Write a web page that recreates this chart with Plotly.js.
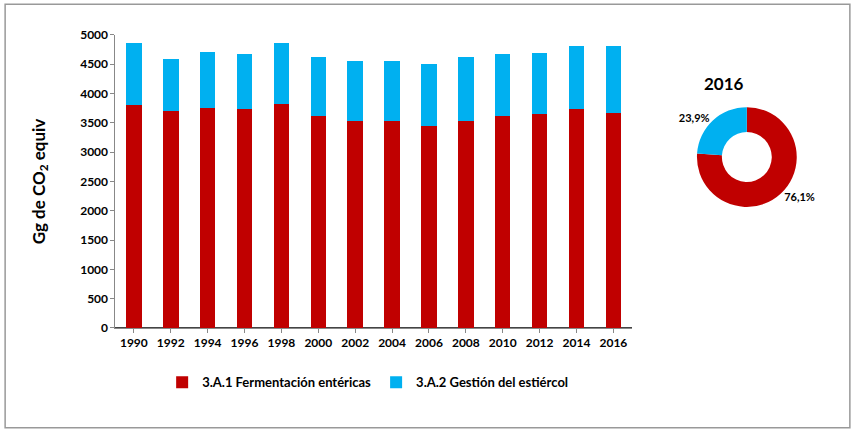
<!DOCTYPE html>
<html><head><meta charset="utf-8">
<script src="https://cdn.plot.ly/plotly-3.0.1.min.js"></script>
<style>body{margin:0}#chart{width:855px;height:432px}</style>
</head><body><div id="chart"></div>
<script>
var years = ['1990','1992','1994','1996','1998','2000','2002','2004','2006','2008','2010','2012','2014','2016'];
var enteric = [3800,3700,3760,3730,3830,3610,3540,3530,3440,3540,3620,3650,3730,3670];
var manure = [1070,890,950,940,1030,1020,1020,1020,1060,1080,1060,1050,1090,1150];
var pieLabels = ['3.A.1 Fermentación entéricas','3.A.2 Gestión del estiércol'];
var pieValues = [76.1, 23.9];
var pieText = ['76,1%','23,9%'];

var red = '#C00000', blue = '#00B0F0';
var f = {family:'Lato, Arial, sans-serif', size:12, color:'#000'};

var traces = [
  {type:'bar', x:years, y:enteric, name:pieLabels[0], marker:{color:red}, width:0.42},
  {type:'bar', x:years, y:manure, name:pieLabels[1], marker:{color:blue}, width:0.42},
  {type:'pie', labels:pieLabels, values:pieValues, text:pieText, textinfo:'text',
   textposition:'outside', hole:0.5, sort:false, direction:'clockwise', rotation:0,
   marker:{colors:[red,blue]}, showlegend:false, hoverinfo:'label+percent',
   textfont:{family:f.family,size:11,color:'#000',weight:'bold'},
   domain:{x:[0.815,0.932], y:[0.521,0.752]}}
];

var layout = {
  width:855, height:432, barmode:'stack',
  margin:{l:0, r:0, t:0, b:0},
  paper_bgcolor:'#fff', plot_bgcolor:'#fff',
  font:f,
  xaxis:{type:'category', domain:[0.135,0.739], tickfont:{family:f.family,size:12,color:'#000',weight:'bold'},
    showline:true, linecolor:'#888', ticks:'outside', ticklen:4, tickcolor:'#888'},
  yaxis:{domain:[0.241,0.919], range:[0,5000], dtick:500, tickfont:{family:f.family,size:12,color:'#000',weight:'bold'},
    showgrid:false, showline:true, linecolor:'#888', ticks:'outside', ticklen:4, tickcolor:'#888',
    title:{text:'Gg de CO<sub>2</sub> equiv', font:{family:f.family,size:17,color:'#000',weight:'bold'}, standoff:30}},
  legend:{orientation:'h', traceorder:'normal', x:0.43, xanchor:'center', y:0.115, yanchor:'middle',
    font:{family:f.family,size:13,color:'#000',weight:'bold'}},
  annotations:[{text:'<b>2016</b>', xref:'paper', yref:'paper', x:0.873, y:0.835, showarrow:false,
    font:{family:f.family,size:17,color:'#000'}}],
  shapes:[{type:'rect', xref:'paper', yref:'paper', x0:0.006, x1:0.994, y0:0.01, y1:0.99,
    line:{color:'#999', width:1.5}}]
};
Plotly.newPlot('chart', traces, layout, {displayModeBar:false});
</script></body></html>
